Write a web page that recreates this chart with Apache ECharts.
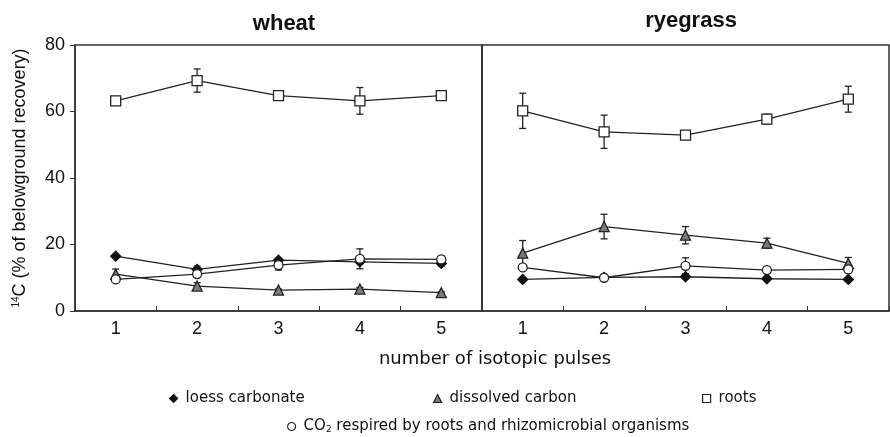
<!DOCTYPE html>
<html>
<head>
<meta charset="utf-8">
<script src="https://cdn.jsdelivr.net/npm/echarts@6/dist/echarts.min.js"></script>
<style>
    html, body { margin: 0; padding: 0; background: #fff; }
    #main { width: 890px; height: 437px; }
</style>
</head>
<body>
<div id="main"></div>
<script>
    // pulses on the x axis
    var pulses = ['1', '2', '3', '4', '5'];
    var yTicks = [0, 20, 40, 60, 80];

    // wheat
    var wheatLoess = [16.5, 12.5, 15.3, 14.8, 14.3];
    var wheatLoessErr = [0.3, 1.0, 0.5, 0.5, 0.8];
    var wheatDissolved = [11.1, 7.5, 6.3, 6.6, 5.5];
    var wheatDissolvedErr = [1.5, 1.0, 0.3, 0.5, 0.3];
    var wheatRoots = [63.2, 69.3, 64.8, 63.2, 64.8];
    var wheatRootsErr = [0.8, 3.5, 1.0, 4.0, 0.8];
    var wheatCO2 = [9.5, 11.1, 13.8, 15.7, 15.5];
    var wheatCO2Err = [0.5, 1.0, 1.5, 3.0, 1.0];

    // ryegrass
    var ryeLoess = [9.5, 10.1, 10.3, 9.7, 9.5];
    var ryeLoessErr = [0.5, 0.5, 0.5, 0.5, 0.5];
    var ryeDissolved = [17.4, 25.4, 22.8, 20.4, 14.3];
    var ryeDissolvedErr = [3.8, 3.7, 2.6, 1.5, 1.8];
    var ryeRoots = [60.2, 53.9, 52.9, 57.7, 63.7];
    var ryeRootsErr = [5.3, 5.0, 0.5, 1.5, 3.9];
    var ryeCO2 = [13.1, 10.0, 13.6, 12.3, 12.5];
    var ryeCO2Err = [0.8, 0.5, 2.4, 0.5, 1.0];

    var NAME_LOESS = 'loess carbonate';
    var NAME_DISS = 'dissolved carbon';
    var NAME_ROOTS = 'roots';
    var NAME_CO2 = 'CO2 respired by roots and rhizomicrobial organisms';

    var chart = echarts.init(document.getElementById('main'));
    var LINE = '#222';
    var FRAME = '#333';

    //样式
    var styles = {};
    styles[NAME_LOESS] = {symbol: 'diamond', size: 10, color: '#111', border: '#111'};
    styles[NAME_DISS] = {symbol: 'triangle', size: 10, color: '#7a7a7a', border: '#222'};
    styles[NAME_ROOTS] = {symbol: 'rect', size: 10, color: '#fff', border: '#222'};
    styles[NAME_CO2] = {symbol: 'circle', size: 9, color: '#fff', border: '#222'};

    function lineSeries(name, data, idx) {
        var s = styles[name];
        return {
            name: name,
            type: 'line',
            xAxisIndex: idx,
            yAxisIndex: idx,
            data: data,
            symbol: s.symbol,
            symbolSize: s.size,
            showAllSymbol: true,
            z: 3,
            lineStyle: {color: LINE, width: 1.3},
            itemStyle: {color: s.color, borderColor: s.border, borderWidth: 1.3, opacity: 1},
            emphasis: {disabled: true}
        };
    }

    /**
     * 误差线
     */
    function errSeries(values, errs, idx) {
        var data = values.map(function (v, i) {
            return [i, v - errs[i], v + errs[i]];
        });
        return {
            type: 'custom',
            xAxisIndex: idx,
            yAxisIndex: idx,
            z: 2,
            silent: true,
            data: data,
            renderItem: function (params, api) {
                var lo = api.coord([api.value(0), api.value(1)]);
                var hi = api.coord([api.value(0), api.value(2)]);
                var w = 3.5;
                var st = {stroke: LINE, lineWidth: 1.3};
                return {
                    type: 'group',
                    children: [
                        {type: 'line', shape: {x1: lo[0], y1: lo[1], x2: hi[0], y2: hi[1]}, style: st},
                        {type: 'line', shape: {x1: lo[0] - w, y1: lo[1], x2: lo[0] + w, y2: lo[1]}, style: st},
                        {type: 'line', shape: {x1: hi[0] - w, y1: hi[1], x2: hi[0] + w, y2: hi[1]}, style: st}
                    ]
                };
            }
        };
    }

    function xAxis(idx) {
        return {
            type: 'category',
            gridIndex: idx,
            data: pulses,
            boundaryGap: true,
            axisLine: {show: true, lineStyle: {color: FRAME, width: 1.5}},
            axisTick: {show: true, inside: true, length: 5, lineStyle: {color: FRAME}},
            axisLabel: {color: '#111', fontSize: 18, fontFamily: 'Liberation Sans', margin: 9}
        };
    }

    function yAxis(idx) {
        var y = {
            type: 'value',
            gridIndex: idx,
            min: yTicks[0],
            max: yTicks[yTicks.length - 1],
            interval: 20,
            splitLine: {show: false},
            axisLine: {show: true, lineStyle: {color: FRAME, width: 1.5}},
            axisTick: {show: idx === 0, length: 5, lineStyle: {color: FRAME}},
            axisLabel: {show: idx === 0, color: '#111', fontSize: 18, fontFamily: 'Liberation Sans', margin: 10}
        };
        if (idx === 0) {
            y.name = '{sup|14}C (% of belowground recovery)';
            y.nameLocation = 'middle';
            y.nameRotate = 90;
            y.nameGap = 46;
            y.nameTextStyle = {
                color: '#111',
                fontSize: 18,
                fontFamily: 'Liberation Sans',
                rich: {
                    sup: {fontSize: 10, verticalAlign: 'top', padding: [0, 0, 8, 0], fontFamily: 'Liberation Sans', color: '#111'}
                }
            };
        }
        return y;
    }

    function legend(name, left, top) {
        var s = styles[name];
        return {
            left: left,
            top: top,
            itemWidth: 8,
            itemHeight: 8,
            itemGap: 0,
            selectedMode: false,
            data: [{name: name, icon: s.symbol,
                itemStyle: {color: s.color, borderColor: s.border, borderWidth: 1.2}}],
            formatter: function (n) {
                return n === NAME_CO2 ? 'CO{sub|2} respired by roots and rhizomicrobial organisms' : n;
            },
            textStyle: {
                color: '#111',
                fontSize: 15,
                fontFamily: 'DejaVu Sans',
                padding: [0, 0, 0, 3],
                rich: {
                    sub: {fontSize: 9, verticalAlign: 'bottom', padding: [6, 0, 0, 0], fontFamily: 'DejaVu Sans', color: '#111'}
                }
            }
        };
    }

    var option = {
        animation: false,
        backgroundColor: '#fff',
        title: [
            {text: 'wheat', left: 279, top: 8, textAlign: 'center',
                textStyle: {fontSize: 22, fontWeight: 'bold', fontFamily: 'Liberation Sans', color: '#111'}},
            {text: 'ryegrass', left: 686, top: 5, textAlign: 'center',
                textStyle: {fontSize: 22, fontWeight: 'bold', fontFamily: 'Liberation Sans', color: '#111'}},
            {text: 'number of isotopic pulses', left: 490, top: 345, textAlign: 'center',
                textStyle: {fontSize: 18, fontWeight: 'normal', fontFamily: 'DejaVu Sans', color: '#111'}}
        ],
        legend: [
            legend(NAME_LOESS, 164, 386),
            legend(NAME_DISS, 428, 386),
            legend(NAME_ROOTS, 697, 386),
            legend(NAME_CO2, 282, 414)
        ],
        grid: [
            {left: 75, right: 408, top: 45, bottom: 126, show: true, borderColor: FRAME, borderWidth: 1.5, backgroundColor: 'transparent'},
            {left: 482, right: 1, top: 45, bottom: 126, show: true, borderColor: FRAME, borderWidth: 1.5, backgroundColor: 'transparent'}
        ],
        xAxis: [xAxis(0), xAxis(1)],
        yAxis: [yAxis(0), yAxis(1)],
        series: [
            errSeries(wheatLoess, wheatLoessErr, 0),
            errSeries(wheatDissolved, wheatDissolvedErr, 0),
            errSeries(wheatRoots, wheatRootsErr, 0),
            errSeries(wheatCO2, wheatCO2Err, 0),
            errSeries(ryeLoess, ryeLoessErr, 1),
            errSeries(ryeDissolved, ryeDissolvedErr, 1),
            errSeries(ryeRoots, ryeRootsErr, 1),
            errSeries(ryeCO2, ryeCO2Err, 1),
            lineSeries(NAME_LOESS, wheatLoess, 0),
            lineSeries(NAME_DISS, wheatDissolved, 0),
            lineSeries(NAME_ROOTS, wheatRoots, 0),
            lineSeries(NAME_CO2, wheatCO2, 0),
            lineSeries(NAME_LOESS, ryeLoess, 1),
            lineSeries(NAME_DISS, ryeDissolved, 1),
            lineSeries(NAME_ROOTS, ryeRoots, 1),
            lineSeries(NAME_CO2, ryeCO2, 1)
        ]
    };
    chart.setOption(option);
</script>
</body>
</html>
